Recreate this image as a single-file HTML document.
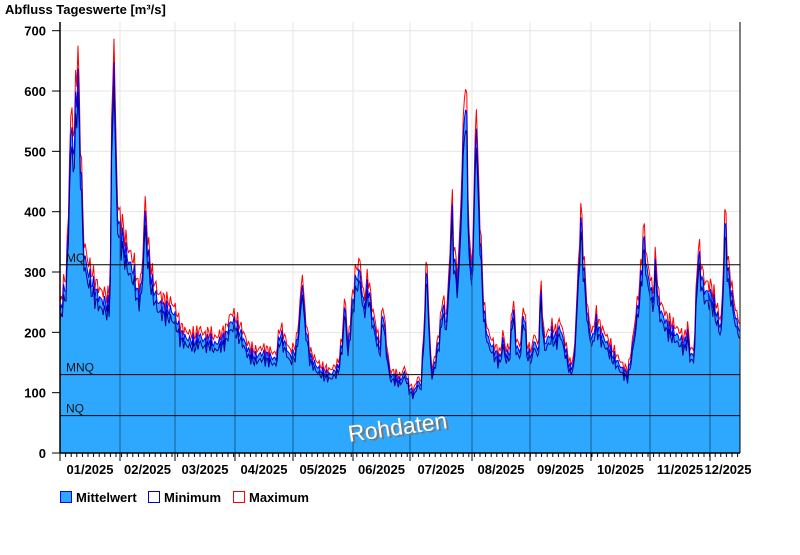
<!DOCTYPE html>
<html><head><meta charset="utf-8"><style>
body{margin:0;background:#fff;}
svg text{font-family:"Liberation Sans",Arial,sans-serif;}
</style></head><body>
<svg id="s" width="800" height="550" xmlns="http://www.w3.org/2000/svg">
<defs><clipPath id="cp"><polygon id="cpp" points=""/></clipPath></defs>
<text x="5" y="14" font-size="13" font-weight="bold">Abfluss Tageswerte [m³/s]</text>
<g id="grid"></g>
<g id="data"></g>
<g id="over"></g>
</svg>
<script>
const NS="http://www.w3.org/2000/svg";
function el(p,t,a,txt){const e=document.createElementNS(NS,t);for(const k in a)e.setAttribute(k,a[k]);if(txt!==undefined)e.textContent=txt;p.appendChild(e);return e;}
const Y=v=>453-v*0.6033;
const g=document.getElementById('grid'),d=document.getElementById('data'),o=document.getElementById('over');
for(let v=0;v<=700;v+=100){
 if(v>0)el(g,'line',{x1:60,x2:740,y1:Y(v),y2:Y(v),stroke:'#e6e6e6'});
 el(o,'line',{x1:52,x2:60,y1:Y(v),y2:Y(v),stroke:'#000'});
 el(o,'text',{x:46,y:Y(v)+5,'font-size':13,'font-weight':'bold','text-anchor':'end'},v);
}
const K=[[60,230],[63,260],[66,280],[68,350],[70,500],[72,540],[74,480],[76,600],[78,620],[80,520],[82,420],[84,330],[88,300],[95,270],[100,255],[105,250],[108,245],[110,250],[112,560],[114,650],[116,480],[118,380],[122,360],[128,320],[134,300],[138,260],[142,280],[145,400],[148,330],[152,280],[158,250],[165,240],[172,235],[176,225],[180,200],[186,190],[195,185],[200,195],[204,185],[210,190],[214,180],[220,185],[226,195],[230,215],[233,220],[236,210],[242,195],[248,170],[255,160],[262,165],[270,160],[276,155],[280,200],[284,185],[290,160],[296,170],[300,230],[302,290],[305,220],[310,160],[316,145],[322,135],[330,130],[338,140],[342,180],[345,250],[348,170],[352,240],[356,290],[360,300],[364,240],[368,280],[372,230],[376,200],[380,170],[383,240],[386,180],[390,130],[396,125],[400,120],[405,135],[410,105],[414,100],[418,120],[421,110],[424,200],[427,320],[429,200],[432,130],[436,160],[440,200],[443,250],[446,210],[449,280],[452,410],[454,320],[458,280],[461,400],[464,550],[466,600],[468,420],[470,300],[473,320],[476,570],[478,450],[481,330],[484,230],[488,190],[494,170],[500,155],[503,190],[506,160],[510,170],[513,250],[516,180],[520,165],[524,240],[527,170],[531,160],[535,190],[538,160],[541,270],[544,180],[548,190],[552,200],[556,190],[560,210],[565,175],[570,140],[574,150],[578,280],[581,390],[584,300],[588,220],[592,185],[596,220],[600,200],[606,185],[612,165],[618,150],[624,135],[628,130],[632,170],[636,220],[640,270],[644,360],[647,300],[650,280],[653,250],[656,320],[658,250],[662,230],[668,210],[674,200],[680,190],[684,180],[688,200],[690,165],[694,160],[698,330],[701,300],[704,270],[708,265],[712,260],[716,235],[720,210],[722,220],[725,390],[728,300],[732,260],[736,220],[740,205]];
function val(x){for(let i=1;i<K.length;i++){if(x<=K[i][0]){const a=K[i-1],b=K[i];const t=(x-a[0])/(b[0]-a[0]);return a[1]+(b[1]-a[1])*t;}}return K[K.length-1][1];}
let mean=[],mn=[],mx=[];
for(let x=60;x<=740.01;x+=1.2){let v=val(x);const n=1+0.04*Math.sin(x*1.7)+0.03*Math.sin(x*3.1);v*=n;mean.push([x,v]);mn.push([x,v*0.94]);mx.push([x,v*1.06]);}
const P=a=>a.map(p=>p[0].toFixed(1)+','+Y(p[1]).toFixed(1)).join(' ');
const poly='60,453 '+P(mean)+' 740,453';
document.getElementById('cpp').setAttribute('points',poly);
const months=[60,120,175,235,293,353,410,472,530,591,650,710,740];
for(let i=1;i<12;i++)el(g,'line',{x1:months[i],x2:months[i],y1:22,y2:453,stroke:'#e6e6e6'});
el(d,'polygon',{points:poly,fill:'#2ea8ff'});
el(d,'polyline',{points:P(mx),fill:'none',stroke:'#ff0000','stroke-width':1});
el(d,'polyline',{points:P(mean),fill:'none',stroke:'#0000ff','stroke-width':1});
el(d,'polyline',{points:P(mn),fill:'none',stroke:'#000099','stroke-width':1});
const cg=el(o,'g',{'clip-path':'url(#cp)'});
for(let i=1;i<12;i++)el(cg,'line',{x1:months[i],x2:months[i],y1:22,y2:453,stroke:'#185a8c'});
[[312,'MQ'],[130,'MNQ'],[62,'NQ']].forEach(([v,l])=>{el(o,'line',{x1:60,x2:740,y1:Y(v),y2:Y(v),stroke:'#000'});el(o,'text',{x:66,y:Y(v)-3,'font-size':12,fill:'#111'},l);});
el(o,'line',{x1:60,x2:60,y1:22,y2:453,stroke:'#000','stroke-width':1.5});
el(o,'line',{x1:740,x2:740,y1:22,y2:453,stroke:'#000'});
el(o,'line',{x1:60,x2:740,y1:453,y2:453,stroke:'#000','stroke-width':1.5});
for(let x=60;x<=740;x+=5.6)el(o,'line',{x1:x,x2:x,y1:453,y2:457,stroke:'#000'});
const names=['01','02','03','04','05','06','07','08','09','10','11','12'];
for(let i=0;i<12;i++){el(o,'line',{x1:months[i],x2:months[i],y1:453,y2:461,stroke:'#000'});
 el(o,'text',{x:(months[i]+months[i+1])/2+(i==11?3:0),y:474,'font-size':13,'font-weight':'bold','text-anchor':'middle'},names[i]+'/2025');}
el(o,'text',{x:400,y:437,'font-size':23,fill:'#777','text-anchor':'middle',transform:'rotate(-8 398 430)'},'Rohdaten');
el(o,'text',{x:398,y:435,'font-size':23,fill:'#fff','text-anchor':'middle',transform:'rotate(-8 398 430)'},'Rohdaten');
[[60,'#2ea8ff','#0000ff','Mittelwert'],[148,'#fff','#0000cc','Minimum'],[233,'#fff','#ff0000','Maximum']].forEach(([x,f,s,t])=>{
 el(o,'rect',{x:x+0.5,y:491.5,width:11,height:11,fill:f,stroke:s});
 el(o,'text',{x:x+16,y:502,'font-size':13,'font-weight':'bold'},t);});
</script>
</body></html>
